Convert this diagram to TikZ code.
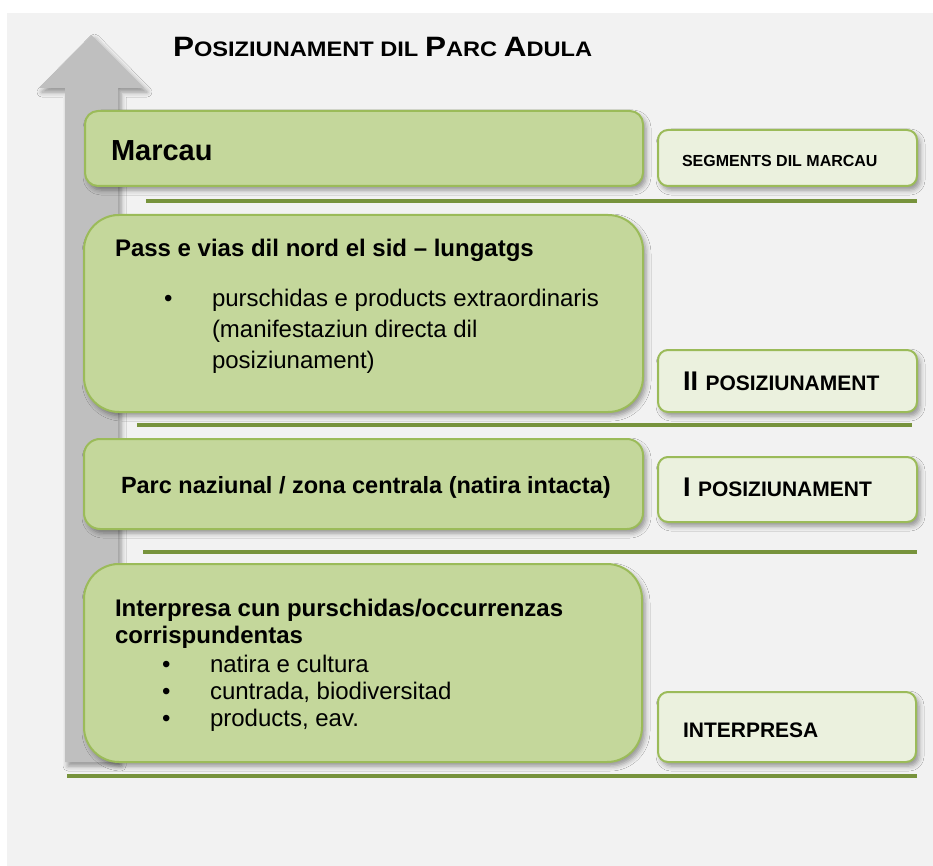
\documentclass[tikz,border=0pt]{standalone}
\usepackage{fontspec}
\usepackage{graphicx}
\setmainfont{Liberation Sans}
\usetikzlibrary{shadows.blur}
\definecolor{bg}{HTML}{F2F2F2}
\definecolor{arrowgray}{HTML}{BFBFBF}
\definecolor{boxfill}{HTML}{C4D79B}
\definecolor{boxedge}{HTML}{9BBB59}
\definecolor{lightfill}{HTML}{EBF1DE}
\definecolor{linegreen}{HTML}{77933C}
\newcommand{\fsz}[1]{\fontsize{#1}{#1}\selectfont}
\tikzset{
  softshadow/.style={blur shadow={shadow xshift=3pt, shadow yshift=-4pt, shadow blur radius=5pt, shadow opacity=40}},
  bigbox/.style={draw=boxedge, fill=boxfill, line width=2pt, inner sep=0pt, outer sep=0pt, softshadow},
  smallbox/.style={bigbox, fill=lightfill, rounded corners=10pt},
  sepline/.style={draw=linegreen, line width=4.5pt},
  txt/.style={anchor=base west, inner sep=0pt, outer sep=0pt, text=black},
  bodytxt/.style={txt, font=\fsz{24}},
  headtxt/.style={txt, font=\fsz{24}\bfseries},
  rtxt/.style={txt, font=\bfseries},
}
\begin{document}
\begin{tikzpicture}[x=1pt,y=-1pt]
\useasboundingbox (0,0) rectangle (933,866);
\fill[white] (0,0) rectangle (933,866);
\fill[bg] (7,13) rectangle (933,866);

% arrow
\fill[arrowgray, softshadow] (65,762) -- (65,88) -- (39,88) -- (91.5,35) -- (144,88) -- (118,88) -- (118,762) -- cycle;

% title
\node[txt, font=\bfseries] (title) at (173,57) {\scalebox{1.125}[1]{\fsz{28}P\fsz{21}OSIZIUNAMENT DIL \fsz{28}P\fsz{21}ARC \fsz{28}A\fsz{21}DULA}};

% separator lines
\coordinate (l1a) at (146,201); \coordinate (l1b) at (917,201);
\coordinate (l2a) at (137,425); \coordinate (l2b) at (912,425);
\coordinate (l3a) at (143,552); \coordinate (l3b) at (917,552);
\coordinate (l4a) at (67,776);  \coordinate (l4b) at (917,776);
\draw[sepline] (l1a) -- (l1b);
\draw[sepline] (l2a) -- (l2b);
\draw[sepline] (l3a) -- (l3b);
\draw[sepline] (l4a) -- (l4b);

% boxes
\node[bigbox, rounded corners=13pt, minimum width=558pt, minimum height=75pt] (marcau) at (364,148.5) {};
\node[smallbox, minimum width=259pt, minimum height=56pt] (segm) at (787.5,158) {};
\node[bigbox, rounded corners=35pt, minimum width=559pt, minimum height=197pt] (pass) at (363.5,313.5) {};
\node[smallbox, minimum width=259pt, minimum height=62pt] (pos2) at (787.5,381) {};
\node[bigbox, rounded corners=16pt, minimum width=559pt, minimum height=90pt] (parc) at (363.5,484) {};
\node[smallbox, minimum width=259pt, minimum height=65pt] (pos1) at (787.5,489.5) {};
\node[bigbox, rounded corners=35pt, minimum width=558pt, minimum height=198pt] (inter) at (363,663) {};
\node[smallbox, minimum width=258pt, minimum height=70pt] (interR) at (787,727) {};

% texts
\node[txt, font=\fsz{29}\bfseries] (tmarcau) at (111,161) {Marcau};
\node[rtxt, font=\fsz{16}\bfseries] (tsegm) at (682,167) {SEGMENTS DIL MARCAU};

\node[headtxt] (tpass) at (115,257) {Pass e vias dil nord el sid – lungatgs};
\node[bodytxt] (bpass) at (164,306) {•};
\node[bodytxt] (pass1) at (212,306) {purschidas e products extraordinaris};
\node[bodytxt] (pass2) at (212,337) {(manifestaziun directa dil};
\node[bodytxt] (pass3) at (212,368) {posiziunament)};
\node[rtxt] (tpos2) at (683,390) {\fsz{27}II \fsz{21}POSIZIUNAMENT};

\node[headtxt, font=\fsz{23.5}\bfseries] (tparc) at (121,493) {Parc naziunal / zona centrala (natira intacta)};
\node[rtxt] (tpos1) at (683,496) {\fsz{27}I \fsz{21}POSIZIUNAMENT};

\node[headtxt] (tinter1) at (115,616) {Interpresa cun purschidas/occurrenzas};
\node[headtxt] (tinter2) at (115,643) {corrispundentas};
\node[bodytxt] (b1) at (162,672) {•};
\node[bodytxt] (i1) at (210,672) {natira e cultura};
\node[bodytxt] (b2) at (162,699) {•};
\node[bodytxt] (i2) at (210,699) {cuntrada, biodiversitad};
\node[bodytxt] (b3) at (162,726) {•};
\node[bodytxt] (i3) at (210,726) {products, eav.};
\node[rtxt, font=\fsz{21}\bfseries] (tinterR) at (683,737) {INTERPRESA};
\end{tikzpicture}
\end{document}
